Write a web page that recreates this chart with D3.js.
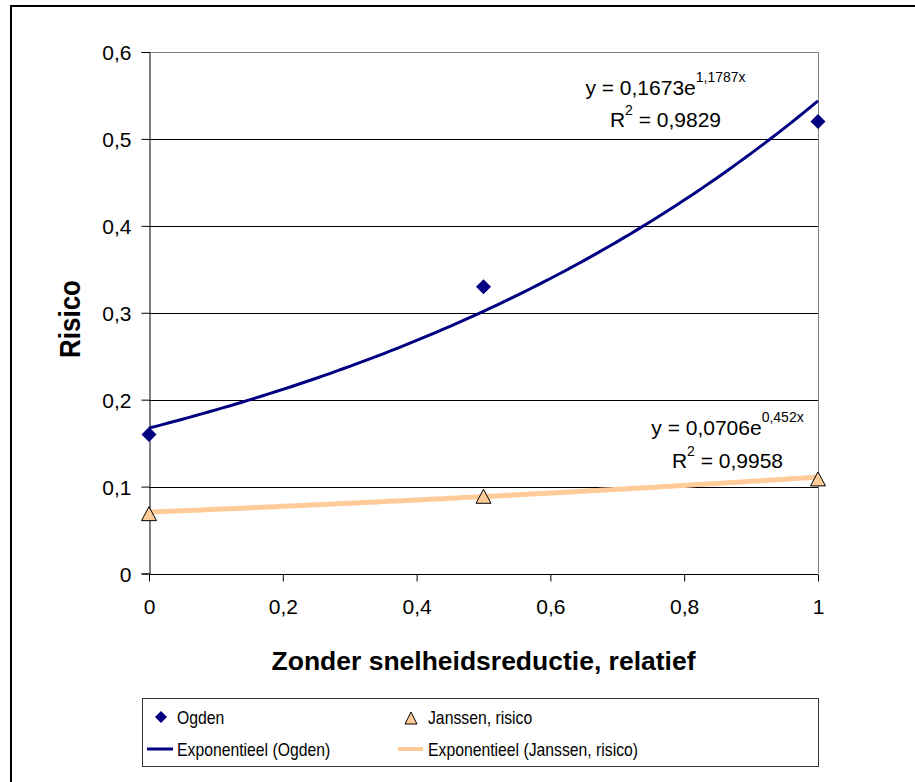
<!DOCTYPE html>
<html><head><meta charset="utf-8">
<script src="https://cdn.jsdelivr.net/npm/d3@7"></script>
<style>body{margin:0;background:#fff}svg{display:block;font-family:"Liberation Sans",Arial,sans-serif}</style>
</head><body>
<svg id="c" width="915" height="782"></svg>
<script>
const xValues = [0, 0.5, 1];
const ogdenValues = [0.16, 0.33, 0.52];
const janssenValues = [0.07, 0.09, 0.11];
const xTicks = [0, 0.2, 0.4, 0.6, 0.8, 1];
const yTicks = [0, 0.1, 0.2, 0.3, 0.4, 0.5, 0.6];
const seriesNames = ["Ogden", "Janssen, risico", "Exponentieel (Ogden)", "Exponentieel (Janssen, risico)"];
const eqOgden = ["y = 0,1673e", "1,1787x", "R", "2", " = 0,9829"];
const eqJanssen = ["y = 0,0706e", "0,452x", "R", "2", " = 0,9958"];
const xTitle = "Zonder snelheidsreductie, relatief";
const yTitle = "Risico";

const navy = "#000080", peach = "#FFCC99";
const svg = d3.select("#c");
const fmt = v => String(v).replace(".", ",");

// outer frame
svg.append("rect").attr("x", 11).attr("y", 6).attr("width", 1000).attr("height", 1000)
  .attr("fill", "none").attr("stroke", "#000").attr("stroke-width", 2);

const x = d3.scaleLinear().domain([0, 1]).range([149, 818]);
const y = d3.scaleLinear().domain([0, 0.6]).range([573.5, 52]);

// gridlines
svg.append("g").selectAll("line").data(yTicks.filter(d => d > 0)).join("line")
  .attr("x1", x(0)).attr("x2", x(1))
  .attr("y1", d => Math.round(y(d)) + 0.5).attr("y2", d => Math.round(y(d)) + 0.5)
  .attr("stroke", d => d === 0.6 ? "#808080" : "#000").attr("stroke-width", 1);
// right plot border
svg.append("line").attr("x1", x(1) + 0.5).attr("x2", x(1) + 0.5).attr("y1", y(0.6)).attr("y2", y(0))
  .attr("stroke", "#808080");

// axes
const yAxis = svg.append("g").attr("transform", `translate(${x(0) + 0.5},0)`)
  .call(d3.axisLeft(y).tickValues(yTicks).tickFormat(fmt).tickSize(8).tickPadding(10));
const xAxis = svg.append("g").attr("transform", `translate(0,${Math.round(y(0)) + 0.5})`)
  .call(d3.axisBottom(x).tickValues(xTicks).tickFormat(fmt).tickSize(7).tickPadding(18));
[yAxis, xAxis].forEach(g => {
  g.select(".domain").attr("stroke", "#000");
  g.selectAll(".tick line").attr("stroke", "#000");
  g.selectAll("text").attr("font-size", 21).attr("fill", "#000")
    .attr("font-family", "'Liberation Sans',Arial,sans-serif");
});
yAxis.selectAll(".tick text").attr("dy", "0.36em");
xAxis.select(".domain").attr("d", `M${x(0)},0H${x(1)}`);

// exponential regression from data
function expFit(xs, ys) {
  const ly = ys.map(Math.log);
  const mx = d3.mean(xs), my = d3.mean(ly);
  const b = d3.sum(xs, (v, i) => (v - mx) * (ly[i] - my)) / d3.sum(xs, v => (v - mx) ** 2);
  const a = Math.exp(my - b * mx);
  return t => a * Math.exp(b * t);
}
const fO = expFit(xValues, ogdenValues), fJ = expFit(xValues, janssenValues);
const samples = d3.range(0, 1.0001, 0.01);
const line = f => d3.line().x(t => x(t)).y(t => y(f(t)))(samples);
svg.append("path").attr("d", line(fJ)).attr("fill", "none").attr("stroke", peach).attr("stroke-width", 5);
svg.append("path").attr("d", line(fO)).attr("fill", "none").attr("stroke", navy).attr("stroke-width", 3);

// markers
const diamond = d3.symbol().type(d3.symbolSquare).size(112);
const triPath = "M0,-7L7.5,7L-7.5,7Z";
svg.append("g").selectAll("path").data(xValues).join("path")
  .attr("d", diamond()).attr("fill", navy)
  .attr("transform", (d, i) => `translate(${x(d)},${y(ogdenValues[i])}) rotate(45)`);
svg.append("g").selectAll("path").data(xValues).join("path")
  .attr("d", triPath).attr("fill", peach).attr("stroke", "#000").attr("stroke-width", 1)
  .attr("transform", (d, i) => `translate(${x(d)},${y(janssenValues[i]) + 1})`);

// equations
function equation(eq, cx, base1, base2) {
  const t1 = svg.append("text").attr("x", cx).attr("y", base1).attr("text-anchor", "middle").attr("font-size", 21);
  t1.append("tspan").text(eq[0]);
  t1.append("tspan").attr("font-size", 14).attr("dy", -13).text(eq[1]);
  const t2 = svg.append("text").attr("x", cx).attr("y", base2).attr("text-anchor", "middle").attr("font-size", 21);
  t2.append("tspan").text(eq[2]);
  t2.append("tspan").attr("font-size", 14).attr("dy", -12).text(eq[3]);
  t2.append("tspan").attr("dy", 12).text(eq[4]);
}
equation(eqOgden, 665.5, 95, 127);
equation(eqJanssen, 727.5, 435, 468);

// axis titles
svg.append("text").attr("transform", "translate(483.5,670) scale(1.06,1)").attr("text-anchor", "middle")
  .attr("font-size", 25).attr("font-weight", "bold").text(xTitle);
svg.append("text").attr("transform", "translate(80,319) rotate(-90) scale(1,1.15)").attr("text-anchor", "middle")
  .attr("font-size", 26).attr("font-weight", "bold").text(yTitle);

// legend
svg.append("rect").attr("x", 142.5).attr("y", 698.5).attr("width", 676).attr("height", 68)
  .attr("fill", "#fff").attr("stroke", "#333");
const lg = svg.append("g");
lg.append("path").attr("d", d3.symbol().type(d3.symbolSquare).size(72)()).attr("fill", navy)
  .attr("transform", "translate(161,717) rotate(45)");
lg.append("path").attr("d", "M0,-6L6,6L-6,6Z").attr("fill", peach).attr("stroke", "#000")
  .attr("transform", "translate(411,718)");
lg.append("line").attr("x1", 147).attr("x2", 173).attr("y1", 749).attr("y2", 749).attr("stroke", navy).attr("stroke-width", 3);
lg.append("line").attr("x1", 398).attr("x2", 423).attr("y1", 749).attr("y2", 749).attr("stroke", peach).attr("stroke-width", 4);
const legPos = [[177, 724], [428, 724], [177, 756], [428, 756]];
seriesNames.forEach((n, i) => {
  lg.append("text").attr("transform", `translate(${legPos[i][0]},${legPos[i][1]}) scale(0.83,1)`)
    .attr("font-size", 19).text(n);
});
</script>
</body></html>
